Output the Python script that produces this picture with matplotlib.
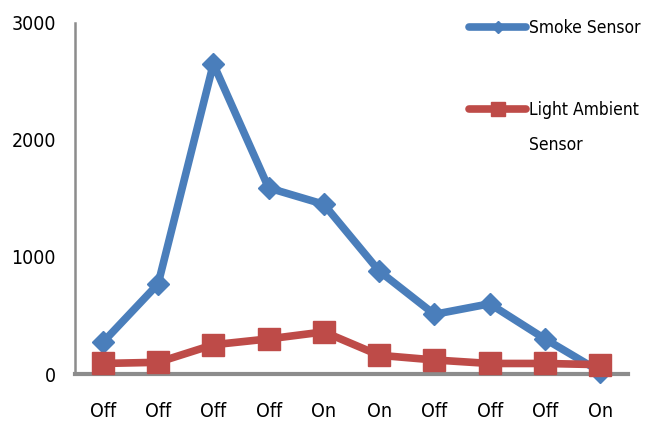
import matplotlib
matplotlib.use("Agg")
import matplotlib.pyplot as plt

states = ["Off", "Off", "Off", "Off", "On", "On", "Off", "Off", "Off", "On"]
smoke = [270, 770, 2650, 1590, 1450, 880, 510, 600, 300, 20]
light = [90, 100, 250, 300, 360, 160, 120, 90, 90, 80]
y_ticks = [0, 1000, 2000, 3000]

plt.rcParams["font.family"] = ["DejaVu Sans"]
plt.rcParams["font.stretch"] = "condensed"

fig = plt.figure(figsize=(6.54, 4.25), dpi=100)
ax = fig.add_axes([0.115, 0.12, 0.845, 0.826])

x = list(range(len(states)))
h_smoke, = ax.plot(x, smoke, color="#4A7EBB", lw=5.5, marker="D", ms=11,
                   solid_capstyle="round", zorder=3)
h_light, = ax.plot(x, light, color="#BE4B48", lw=5.5, marker="s", ms=16,
                   solid_capstyle="round", zorder=4)

ax.set_xlim(-0.5, len(states) - 0.5)
ax.set_ylim(0, 3000)
ax.set_xticks(x)
ax.set_xticklabels(states)
ax.set_yticks(y_ticks)
ax.tick_params(axis="both", length=0, labelsize=14, colors="black")
ax.tick_params(axis="x", pad=20)
ax.tick_params(axis="y", pad=14)

for side in ("top", "right"):
    ax.spines[side].set_visible(False)
ax.spines["left"].set_color("#8C8C8C")
ax.spines["left"].set_linewidth(1.8)
ax.spines["bottom"].set_color("#8C8C8C")
ax.spines["bottom"].set_linewidth(3)
ax.spines["bottom"].set_zorder(2)
for ln in ax.lines:
    ln.set_clip_on(False)

leg_kw = dict(loc="center left", frameon=False, fontsize=12.5, handlelength=3.3,
              handletextpad=0.15, markerscale=0.6, borderpad=0, borderaxespad=0)
fig.legend([h_smoke], ["Smoke Sensor"], bbox_to_anchor=(0.717, 1 - 28 / 425), **leg_kw)
fig.legend([h_light], ["Light Ambient"], bbox_to_anchor=(0.717, 1 - 110 / 425), **leg_kw)
fig.text(529 / 654, 1 - 145 / 425, "Sensor", fontsize=12.5, va="center", ha="left")

fig.savefig("out.png", dpi=100)
